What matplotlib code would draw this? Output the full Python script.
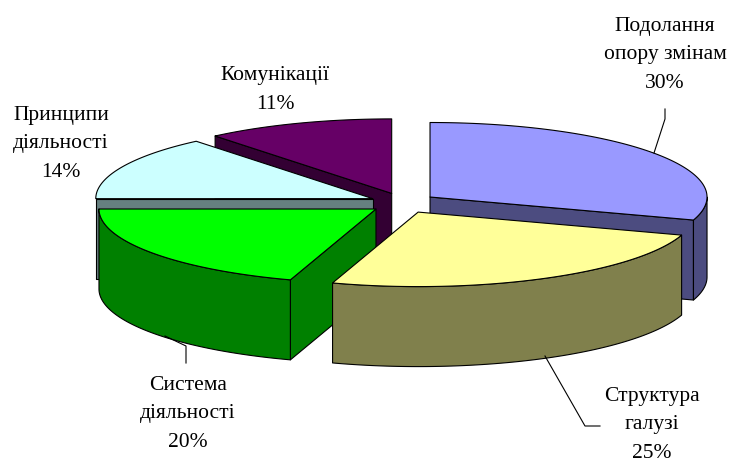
import numpy as np
import matplotlib
matplotlib.use('Agg')
import matplotlib.pyplot as plt
from matplotlib.patches import Polygon

# --- data, clockwise from 12 o'clock ---
categories = ['Подолання\nопору змінам', 'Структура\nгалузі', 'Система\nдіяльності',
              'Принципи\nдіяльності', 'Комунікації']
values = [30, 25, 20, 14, 11]
top_colors = ['#9999FF', '#FFFF99', '#00FF00', '#CCFFFF', '#660066']
side_colors = ['#4C4C80', '#80804C', '#008000', '#668080', '#330033']

# --- pie geometry in pixels ---
cx, cy = 403, 204
rx, ry = 277, 74.5
depth = 80
ex, ey = 33.4, 10.2  # explode distance
draw_order = [4, 3, 2, 0, 1]  # back to front

label_pos = [(665, 55), (652, 425), (188, 414), (61, 144), (275, 90)]
leaders = [
    [(654, 154), (665, 120), (665, 110)],
    [(545, 357), (585, 427), (600, 427)],
    [(165, 337), (186, 347), (186, 364)],
]

plt.rcParams['font.family'] = ['Liberation Serif', 'DejaVu Serif']
fig = plt.figure(figsize=(7.29, 4.64), dpi=100)
ax = fig.add_axes([0, 0, 1, 1])
ax.set_xlim(0, 729)
ax.set_ylim(464, 0)
ax.axis('off')


def rim(x0, y0, a0, a1, dy=0):
    t = np.radians(np.linspace(a0, a1, 120))
    return np.column_stack([x0 + rx * np.sin(t), y0 - ry * np.cos(t) + dy])


def add_poly(pts, color):
    ax.add_patch(Polygon(pts, closed=True, facecolor=color, edgecolor='black',
                         linewidth=0.8, joinstyle='round'))


edges = np.cumsum([0] + values) / sum(values) * 360
for i in draw_order:
    a0, a1 = edges[i], edges[i + 1]
    mid = np.radians((a0 + a1) / 2)
    x0 = cx + ex * np.sin(mid)
    y0 = cy - ey * np.cos(mid)
    mx, my = rx / 2 * np.sin(mid), -ry / 2 * np.cos(mid)

    # cut faces, only where the slice lies above the cut on screen
    for a in (a0, a1):
        ang = np.radians(a)
        ux, uy = rx * np.sin(ang), -ry * np.cos(ang)
        if abs(ux) < 1e-6 or my >= uy / ux * mx:
            continue
        px, py = x0 + ux, y0 + uy
        add_poly([(x0, y0), (px, py), (px, py + depth), (x0, y0 + depth)], side_colors[i])

    # outer wall, front half of the ellipse only
    w0, w1 = max(a0, 90), min(a1, 270)
    if w1 > w0:
        add_poly(np.vstack([rim(x0, y0, w0, w1), rim(x0, y0, w1, w0, depth)]), side_colors[i])

    # top face
    add_poly(np.vstack([[(x0, y0)], rim(x0, y0, a0, a1)]), top_colors[i])

for line in leaders:
    xs, ys = zip(*line)
    ax.plot(xs, ys, color='black', lw=0.8)

for name, val, (lx, ly) in zip(categories, values, label_pos):
    ax.text(lx, ly, f'{name}\n{val}%', ha='center', va='center', fontsize=15.5,
            linespacing=1.66, color='black')

fig.savefig('out.png', dpi=100)
